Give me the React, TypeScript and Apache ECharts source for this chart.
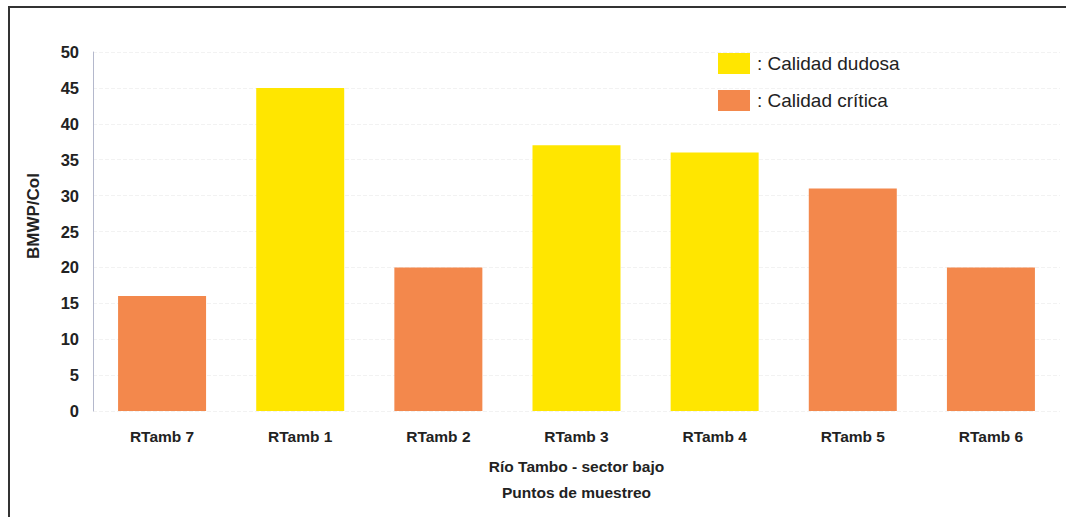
import React, { useEffect, useRef } from "react";
import * as echarts from "echarts";

const categories = ["RTamb 7", "RTamb 1", "RTamb 2", "RTamb 3", "RTamb 4", "RTamb 5", "RTamb 6"];
const values = [16, 45, 20, 37, 36, 31, 20];
const quality = ["critica", "dudosa", "critica", "dudosa", "dudosa", "critica", "critica"];
const yTicks = [0, 5, 10, 15, 20, 25, 30, 35, 40, 45, 50];
const legendNames = ["Calidad dudosa", "Calidad crítica"];
const yAxisTitle = "BMWP/Col";
const xAxisTitle = "Río Tambo - sector bajo\nPuntos de muestreo";

const YELLOW = "#FFE600";
const ORANGE = "#F3884C";
const FONT = "Liberation Sans, Arial, sans-serif";

export default function App() {
  const ref = useRef<HTMLDivElement>(null);
  useEffect(() => {
    document.body.style.margin = "0";
    const chart = echarts.init(ref.current!, null, { renderer: "svg" });
    const dudosa = values.map((v, i) => (quality[i] === "dudosa" ? v : null));
    const critica = values.map((v, i) => (quality[i] === "critica" ? v : null));
    chart.setOption({
      animation: false,
      backgroundColor: "#ffffff",
      grid: { left: 93, right: 6, top: 52, bottom: 106, containLabel: false },
      legend: {
        orient: "vertical",
        left: 713,
        top: 48,
        itemWidth: 32,
        itemHeight: 21,
        itemGap: 16,
        icon: "rect",
        data: legendNames,
        formatter: (n: string) => ": " + n,
        textStyle: { fontFamily: FONT, fontSize: 19, color: "#222", padding: [0, 0, 0, 2] },
      },
      xAxis: {
        type: "category",
        data: categories,
        name: xAxisTitle,
        nameLocation: "middle",
        nameGap: 42,
        nameTextStyle: { fontFamily: FONT, fontSize: 15.5, fontWeight: "bold", color: "#222", lineHeight: 26 },
        axisLine: { show: false },
        axisTick: { show: false },
        axisLabel: { fontFamily: FONT, fontSize: 15.5, fontWeight: "bold", color: "#222", margin: 17 },
      },
      yAxis: {
        type: "value",
        min: yTicks[0],
        max: yTicks[yTicks.length - 1],
        interval: 5,
        axisLine: { show: true, lineStyle: { color: "#b4b8cc", width: 1 } },
        axisTick: { show: false },
        axisLabel: { fontFamily: FONT, fontSize: 16.5, fontWeight: "bold", color: "#222", margin: 14 },
        splitLine: { show: true, lineStyle: { color: "#f2f2f2", type: "dashed" } },
      },
      series: [
        {
          name: legendNames[0],
          type: "bar",
          stack: "s",
          data: dudosa,
          barWidth: 88,
          itemStyle: { color: YELLOW },
        },
        {
          name: legendNames[1],
          type: "bar",
          stack: "s",
          data: critica,
          barWidth: 88,
          itemStyle: { color: ORANGE },
        },
      ],
      graphic: [
        { type: "line", shape: { x1: 8, y1: 7, x2: 1066, y2: 7 }, style: { stroke: "#333", lineWidth: 2 } },
        { type: "line", shape: { x1: 9, y1: 6, x2: 9, y2: 517 }, style: { stroke: "#333", lineWidth: 2 } },
        {
          type: "text",
          x: 33,
          y: 216,
          rotation: Math.PI / 2,
          style: {
            text: yAxisTitle,
            fontFamily: FONT,
            fontSize: 17,
            fontWeight: "bold",
            fill: "#222",
            align: "center",
            verticalAlign: "middle",
          },
        },
      ],
    });
    return () => chart.dispose();
  }, []);
  return <div ref={ref} style={{ width: 1066, height: 517 }} />;
}
